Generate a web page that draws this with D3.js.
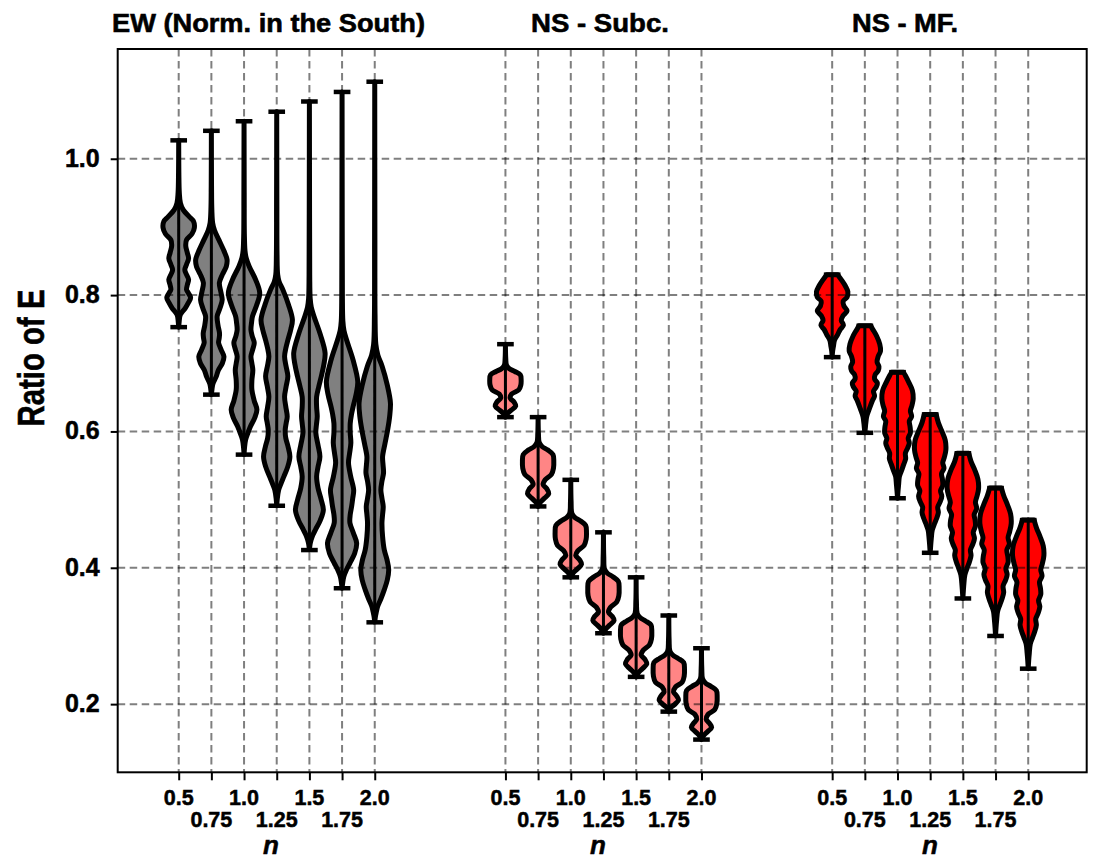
<!DOCTYPE html>
<html>
<head>
<meta charset="utf-8">
<script src="https://cdn.jsdelivr.net/npm/d3@7"></script>
<style>
  html, body { margin: 0; padding: 0; background: #fff; }
  svg { display: block; }
  text { font-family: "Liberation Sans", Arial, Helvetica, sans-serif; font-weight: bold; fill: #000; }
</style>
</head>
<body>
<svg id="chart" width="1095" height="861"></svg>
<script>
// ---------------- DATA ----------------
const groupTitles = ["EW (Norm. in the South)", "NS - Subc.", "NS - MF."];
const nValues = [0.5, 0.75, 1.0, 1.25, 1.5, 1.75, 2.0];
const nTickLabels = ["0.5", "0.75", "1.0", "1.25", "1.5", "1.75", "2.0"];
const yTicks = [0.2, 0.4, 0.6, 0.8, 1.0];
const groupColors = ["#808080", "#ff8585", "#ff0000"];

// extrema (min / max) of each violin
const ewMin = [0.753, 0.654, 0.566, 0.491, 0.426, 0.370, 0.320];
const ewMax = [1.027, 1.041, 1.055, 1.069, 1.084, 1.098, 1.113];
const nsMin = [0.621, 0.490, 0.386, 0.304, 0.240, 0.189, 0.148];
const nsMax = [0.728, 0.621, 0.529, 0.452, 0.386, 0.330, 0.282];
const mfMin = [0.709, 0.598, 0.502, 0.422, 0.355, 0.300, 0.252];
const mfMax = [0.830, 0.755, 0.687, 0.625, 0.568, 0.517, 0.470];

// density profiles [value, relative density]
const ewProfiles = [
  [[0.753,0],[0.761,0.03],[0.771,0.1],[0.781,0.42],[0.789,0.62],[0.796,0.76],[0.803,0.62],[0.808,0.5],[0.815,0.55],[0.823,0.63],[0.830,0.5],[0.837,0.39],[0.845,0.5],[0.854,0.63],[0.862,0.55],[0.872,0.45],[0.881,0.5],[0.890,0.85],[0.899,1.0],[0.908,0.95],[0.915,0.67],[0.925,0.29],[0.935,0.11],[0.950,0.04],[0.980,0.01],[1.027,0]],
  [[0.654,0],[0.662,0.04],[0.670,0.1],[0.680,0.3],[0.690,0.45],[0.700,0.7],[0.710,0.8],[0.720,0.62],[0.730,0.46],[0.737,0.5],[0.744,0.52],[0.756,0.42],[0.769,0.37],[0.781,0.55],[0.793,0.69],[0.805,0.6],[0.818,0.51],[0.830,0.7],[0.842,0.95],[0.852,1.0],[0.865,0.8],[0.881,0.48],[0.895,0.2],[0.906,0.08],[0.925,0.03],[0.960,0.01],[1.041,0]],
  [[0.566,0],[0.576,0.03],[0.588,0.1],[0.598,0.25],[0.607,0.4],[0.620,0.68],[0.632,0.82],[0.645,0.65],[0.661,0.5],[0.675,0.5],[0.690,0.56],[0.700,0.5],[0.710,0.44],[0.720,0.55],[0.730,0.65],[0.740,0.52],[0.749,0.44],[0.760,0.48],[0.769,0.54],[0.785,0.8],[0.803,1.0],[0.822,0.75],[0.842,0.33],[0.855,0.13],[0.865,0.06],[0.890,0.02],[0.950,0.01],[1.055,0]],
  [[0.491,0],[0.500,0.03],[0.514,0.12],[0.524,0.28],[0.534,0.46],[0.548,0.7],[0.563,0.84],[0.578,0.72],[0.590,0.58],[0.602,0.54],[0.612,0.6],[0.622,0.67],[0.636,0.58],[0.651,0.5],[0.666,0.6],[0.681,0.71],[0.695,0.6],[0.710,0.5],[0.722,0.58],[0.734,0.71],[0.750,0.9],[0.764,1.0],[0.786,0.75],[0.808,0.39],[0.820,0.15],[0.830,0.06],[0.860,0.02],[0.930,0.01],[1.069,0]],
  [[0.426,0],[0.434,0.04],[0.441,0.11],[0.448,0.22],[0.456,0.39],[0.470,0.7],[0.485,0.89],[0.500,0.75],[0.517,0.55],[0.534,0.46],[0.548,0.55],[0.563,0.67],[0.580,0.55],[0.598,0.41],[0.610,0.45],[0.622,0.5],[0.636,0.46],[0.651,0.46],[0.666,0.6],[0.681,0.76],[0.698,0.92],[0.715,1.0],[0.742,0.7],[0.769,0.29],[0.782,0.12],[0.795,0.05],[0.830,0.02],[0.920,0.01],[1.084,0]],
  [[0.370,0],[0.378,0.04],[0.387,0.11],[0.397,0.28],[0.407,0.5],[0.421,0.8],[0.436,0.93],[0.451,0.72],[0.466,0.5],[0.478,0.52],[0.490,0.61],[0.502,0.68],[0.514,0.74],[0.534,0.55],[0.554,0.41],[0.568,0.48],[0.583,0.56],[0.598,0.52],[0.612,0.52],[0.625,0.6],[0.637,0.71],[0.655,0.9],[0.673,1.0],[0.705,0.7],[0.734,0.29],[0.748,0.12],[0.762,0.05],[0.800,0.02],[0.900,0.01],[1.098,0]],
  [[0.320,0],[0.328,0.04],[0.335,0.1],[0.343,0.18],[0.355,0.4],[0.368,0.61],[0.382,0.8],[0.397,0.89],[0.412,0.78],[0.426,0.61],[0.446,0.5],[0.466,0.46],[0.478,0.5],[0.490,0.54],[0.502,0.46],[0.514,0.39],[0.527,0.46],[0.539,0.56],[0.551,0.53],[0.563,0.5],[0.582,0.65],[0.602,0.82],[0.622,0.95],[0.642,1.0],[0.668,0.8],[0.695,0.48],[0.712,0.2],[0.728,0.07],[0.770,0.02],[0.880,0.01],[1.113,0]]
];
const nsProfiles = [
  [[0.621,0],[0.626,0.12],[0.631,0.35],[0.637,0.65],[0.643,0.55],[0.649,0.3],[0.655,0.4],[0.661,0.85],[0.668,0.98],[0.676,1.0],[0.683,0.95],[0.688,0.6],[0.692,0.25],[0.697,0.07],[0.707,0.02],[0.728,0]],
  [[0.490,0],[0.496,0.14],[0.502,0.4],[0.509,0.68],[0.516,0.55],[0.522,0.32],[0.529,0.45],[0.537,0.85],[0.546,0.98],[0.556,1.0],[0.566,0.95],[0.573,0.6],[0.578,0.25],[0.584,0.07],[0.597,0.02],[0.621,0]],
  [[0.386,0],[0.392,0.14],[0.398,0.4],[0.405,0.68],[0.412,0.55],[0.418,0.32],[0.425,0.45],[0.433,0.85],[0.442,0.98],[0.452,1.0],[0.462,0.95],[0.469,0.6],[0.474,0.25],[0.480,0.07],[0.497,0.02],[0.529,0]],
  [[0.304,0],[0.310,0.14],[0.316,0.4],[0.323,0.68],[0.329,0.55],[0.335,0.32],[0.342,0.45],[0.350,0.85],[0.359,0.98],[0.370,1.0],[0.380,0.95],[0.387,0.6],[0.392,0.25],[0.398,0.07],[0.416,0.02],[0.452,0]],
  [[0.240,0],[0.246,0.14],[0.252,0.4],[0.259,0.68],[0.266,0.55],[0.272,0.32],[0.279,0.45],[0.287,0.85],[0.296,0.98],[0.306,1.0],[0.316,0.95],[0.322,0.6],[0.327,0.25],[0.333,0.07],[0.349,0.02],[0.386,0]],
  [[0.189,0],[0.195,0.14],[0.200,0.4],[0.206,0.62],[0.212,0.5],[0.218,0.3],[0.225,0.42],[0.232,0.85],[0.241,0.98],[0.251,1.0],[0.261,0.95],[0.267,0.6],[0.272,0.25],[0.278,0.07],[0.294,0.02],[0.330,0]],
  [[0.148,0],[0.154,0.14],[0.160,0.4],[0.166,0.65],[0.172,0.5],[0.178,0.3],[0.185,0.42],[0.192,0.85],[0.201,0.98],[0.211,1.0],[0.220,0.95],[0.226,0.6],[0.231,0.25],[0.237,0.07],[0.252,0.02],[0.282,0]]
];
const mfProfiles = [
  [[0.709,0],[0.718,0.03],[0.725,0.08],[0.734,0.15],[0.742,0.35],[0.749,0.5],[0.756,0.72],[0.763,0.58],[0.770,0.7],[0.777,0.95],[0.784,0.75],[0.791,0.7],[0.797,0.95],[0.805,1.0],[0.813,0.85],[0.822,0.6],[0.830,0.35]],
  [[0.598,0],[0.605,0.03],[0.612,0.06],[0.622,0.12],[0.634,0.3],[0.646,0.5],[0.652,0.62],[0.659,0.55],[0.665,0.72],[0.671,0.8],[0.677,0.62],[0.683,0.65],[0.689,0.85],[0.695,0.9],[0.702,0.78],[0.710,0.85],[0.718,1.0],[0.728,0.95],[0.740,0.75],[0.750,0.5],[0.755,0.38]],
  [[0.502,0],[0.512,0.03],[0.522,0.07],[0.534,0.12],[0.544,0.28],[0.552,0.4],[0.560,0.52],[0.568,0.5],[0.576,0.65],[0.583,0.75],[0.590,0.68],[0.598,0.82],[0.607,0.8],[0.615,0.75],[0.622,0.9],[0.630,0.82],[0.638,0.92],[0.648,1.0],[0.660,0.95],[0.672,0.72],[0.682,0.5],[0.687,0.38]],
  [[0.422,0],[0.432,0.03],[0.443,0.07],[0.455,0.13],[0.465,0.28],[0.473,0.42],[0.481,0.52],[0.489,0.48],[0.497,0.64],[0.505,0.74],[0.513,0.66],[0.521,0.8],[0.530,0.78],[0.538,0.72],[0.546,0.88],[0.554,0.8],[0.562,0.9],[0.573,1.0],[0.587,0.96],[0.600,0.75],[0.613,0.52],[0.625,0.38]],
  [[0.355,0],[0.366,0.03],[0.378,0.07],[0.390,0.13],[0.400,0.28],[0.409,0.42],[0.418,0.52],[0.426,0.48],[0.435,0.64],[0.443,0.74],[0.452,0.66],[0.461,0.8],[0.470,0.78],[0.478,0.72],[0.487,0.88],[0.496,0.8],[0.505,0.9],[0.516,1.0],[0.530,0.96],[0.544,0.75],[0.556,0.52],[0.568,0.38]],
  [[0.300,0],[0.312,0.03],[0.323,0.07],[0.336,0.13],[0.346,0.28],[0.355,0.42],[0.364,0.52],[0.373,0.48],[0.382,0.64],[0.390,0.74],[0.399,0.66],[0.408,0.8],[0.417,0.78],[0.426,0.72],[0.435,0.88],[0.444,0.8],[0.453,0.9],[0.465,1.0],[0.479,0.96],[0.493,0.75],[0.506,0.52],[0.517,0.38]],
  [[0.252,0],[0.264,0.03],[0.275,0.07],[0.288,0.13],[0.298,0.28],[0.307,0.42],[0.316,0.52],[0.325,0.48],[0.334,0.64],[0.343,0.74],[0.352,0.66],[0.361,0.8],[0.370,0.78],[0.379,0.72],[0.388,0.88],[0.397,0.8],[0.406,0.9],[0.418,1.0],[0.432,0.96],[0.446,0.75],[0.459,0.52],[0.470,0.38]]
];

// ---------------- LAYOUT ----------------
const svg = d3.select("#chart");
const plot = { left: 117.7, right: 1086.7, top: 49, bottom: 772.3 };
const groupOffsets = [0, 10, 20];

const x = d3.scaleLinear().domain([-1.867, 27.79]).range([plot.left, plot.right]);
const y = d3.scaleLinear().domain([0.1, 1.161]).range([plot.bottom, plot.top]);
const unit = x(1) - x(0);
const halfMax = 0.48 * unit;   // half-width of violin at max density
const capHalf = 0.255 * unit;

const groups = [
  { mins: ewMin, maxs: ewMax, profiles: ewProfiles, color: groupColors[0] },
  { mins: nsMin, maxs: nsMax, profiles: nsProfiles, color: groupColors[1] },
  { mins: mfMin, maxs: mfMax, profiles: mfProfiles, color: groupColors[2] }
];

svg.append("rect").attr("width", 1095).attr("height", 861).attr("fill", "#fff");

const allPositions = [];
groupOffsets.forEach(off => nValues.forEach((n, i) => allPositions.push({ pos: off + i, label: nTickLabels[i], row: i % 2 })));

// violins
const gViol = svg.append("g");
groups.forEach((grp, gi) => {
  nValues.forEach((n, i) => {
    const cx = x(groupOffsets[gi] + i);
    const prof = grp.profiles[i];
    const area = d3.area()
      .y(d => y(d[0]))
      .x0(d => cx - d[1] * halfMax)
      .x1(d => cx + d[1] * halfMax)
      .curve(d3.curveCatmullRom.alpha(0.5));
    gViol.append("path")
      .attr("d", area(prof))
      .attr("fill", grp.color)
      .attr("stroke", "#000")
      .attr("stroke-width", 5)
      .attr("stroke-linejoin", "round");
  });
});
// bars and caps
const gBars = svg.append("g").attr("stroke", "#000").attr("stroke-linecap", "butt");
groups.forEach((grp, gi) => {
  nValues.forEach((n, i) => {
    const cx = x(groupOffsets[gi] + i);
    gBars.append("line").attr("x1", cx).attr("x2", cx)
      .attr("y1", y(grp.mins[i])).attr("y2", y(grp.maxs[i])).attr("stroke-width", 3);
    [grp.mins[i], grp.maxs[i]].forEach(v => {
      gBars.append("line").attr("x1", cx - capHalf).attr("x2", cx + capHalf)
        .attr("y1", y(v)).attr("y2", y(v)).attr("stroke-width", 4.5);
    });
  });
});

// grid (drawn above the violins, translucent)
const gGrid = svg.append("g").attr("stroke", "#000").attr("stroke-opacity", 0.5)
  .attr("stroke-width", 2).attr("stroke-dasharray", "7.5,4.5");
yTicks.forEach(t => gGrid.append("line").attr("x1", plot.left).attr("x2", plot.right)
  .attr("y1", y(t)).attr("y2", y(t)));
allPositions.forEach(p => gGrid.append("line").attr("x1", x(p.pos)).attr("x2", x(p.pos))
  .attr("y1", plot.top).attr("y2", plot.bottom));

// frame
svg.append("rect").attr("x", plot.left).attr("y", plot.top)
  .attr("width", plot.right - plot.left).attr("height", plot.bottom - plot.top)
  .attr("fill", "none").attr("stroke", "#000").attr("stroke-width", 2);

// y axis
const yAxis = d3.axisLeft(y).tickValues(yTicks).tickFormat(d3.format(".1f")).tickSize(7).tickPadding(11);
const gy = svg.append("g").attr("transform", `translate(${plot.left},0)`).call(yAxis);
gy.select(".domain").remove();
gy.selectAll(".tick line").attr("stroke", "#000").attr("stroke-width", 2);
gy.selectAll(".tick text").style("font-size", "25px").attr("font-weight", "bold")
  .attr("font-family", "Liberation Sans, Arial, sans-serif").attr("fill", "#000")
  .attr("stroke", "#000").attr("stroke-width", 0.5).attr("dy", "0.3em");

// x axis (ticks at each position, labels alternate rows)
const xAxis = d3.axisBottom(x).tickValues(allPositions.map(p => p.pos)).tickFormat("").tickSize(8);
const gx = svg.append("g").attr("transform", `translate(0,${plot.bottom})`).call(xAxis);
gx.select(".domain").remove();
gx.selectAll(".tick line").attr("stroke", "#000").attr("stroke-width", 2);
svg.append("g").selectAll("text").data(allPositions).join("text")
  .attr("x", d => x(d.pos))
  .attr("y", d => d.row === 0 ? 804.5 : 827)
  .attr("text-anchor", "middle")
  .attr("stroke", "#000").attr("stroke-width", 0.5)
  .style("font-size", "21.5px")
  .text(d => d.label);

// x-axis labels "n"
const nLabelX = [271, 598, 930];
nLabelX.forEach(px => {
  svg.append("text").attr("x", px).attr("y", 854)
    .attr("text-anchor", "middle").style("font-size", "26px").style("font-style", "italic")
    .attr("stroke", "#000").attr("stroke-width", 0.5)
    .text("n");
});

// group titles
const titleX = [268.5, 600, 905];
const titleW = [313, 138, 106];
groupTitles.forEach((t, i) => {
  svg.append("text").attr("x", titleX[i]).attr("y", 32).attr("text-anchor", "middle")
    .style("font-size", "26.5px")
    .attr("stroke", "#000").attr("stroke-width", 0.6)
    .attr("textLength", titleW[i]).attr("lengthAdjust", "spacingAndGlyphs")
    .text(t);
});

// y label
svg.append("text").attr("transform", "translate(44,358) rotate(-90)")
  .attr("text-anchor", "middle").style("font-size", "37px")
  .attr("stroke", "#000").attr("stroke-width", 0.6)
  .attr("textLength", 137).attr("lengthAdjust", "spacingAndGlyphs")
  .text("Ratio of E");
</script>
</body>
</html>
